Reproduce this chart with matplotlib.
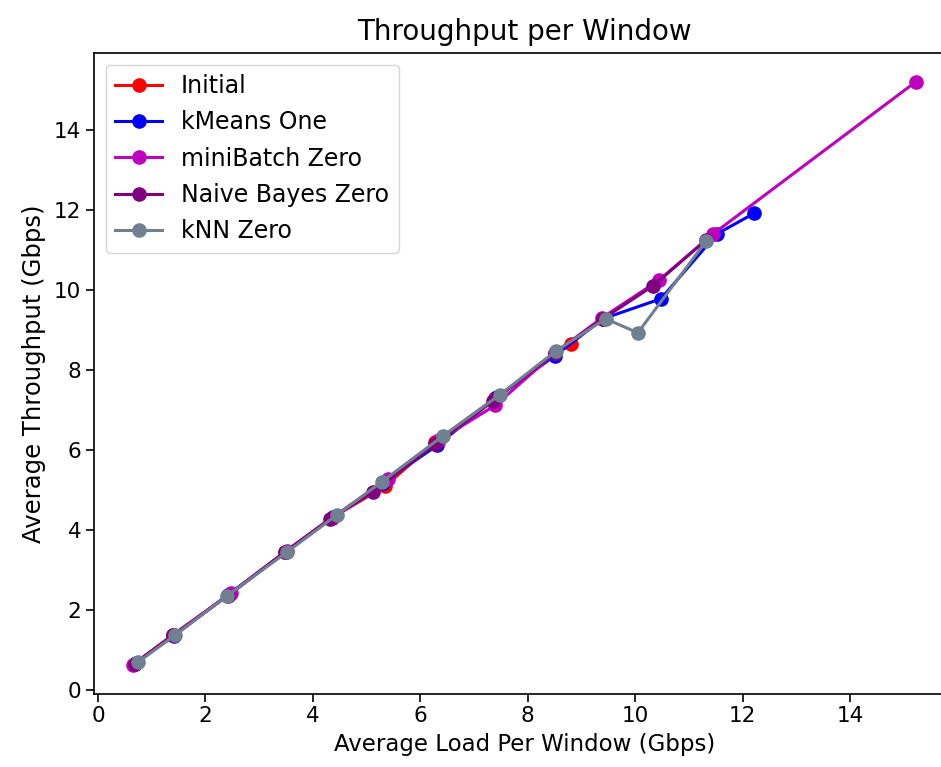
import matplotlib
matplotlib.use('Agg')
import matplotlib.pyplot as plt

# Veriler
initial_x = [0.68, 1.40, 2.45, 3.48, 4.35, 5.35, 6.28, 7.40, 8.80]
initial_y = [0.66, 1.38, 2.40, 3.45, 4.30, 5.10, 6.20, 7.30, 8.65]

kmeans_x = [0.70, 1.42, 2.42, 3.50, 4.38, 5.30, 6.32, 7.42, 8.50, 9.40, 10.48, 11.52, 12.22]
kmeans_y = [0.68, 1.36, 2.38, 3.46, 4.32, 5.18, 6.12, 7.32, 8.35, 9.28, 9.78, 11.40, 11.92]

minibatch_x = [0.65, 1.40, 2.48, 3.52, 4.35, 5.40, 6.35, 7.40, 8.50, 9.38, 10.45, 11.45, 15.22]
minibatch_y = [0.63, 1.38, 2.42, 3.48, 4.30, 5.28, 6.25, 7.12, 8.42, 9.30, 10.25, 11.40, 15.20]

bayes_x = [0.68, 1.40, 2.42, 3.48, 4.32, 5.12, 6.28, 7.35, 8.50, 9.40, 10.33, 11.32]
bayes_y = [0.66, 1.37, 2.36, 3.45, 4.28, 4.95, 6.15, 7.22, 8.42, 9.28, 10.10, 11.25]

knn_x = [0.75, 1.43, 2.40, 3.52, 4.45, 5.28, 6.42, 7.48, 8.52, 9.45, 10.05, 11.32]
knn_y = [0.70, 1.37, 2.35, 3.45, 4.38, 5.20, 6.35, 7.38, 8.47, 9.28, 8.93, 11.22]

x_ticks = [0, 2, 4, 6, 8, 10, 12, 14]
y_ticks = [0, 2, 4, 6, 8, 10, 12, 14]

fig = plt.figure(figsize=(9.41, 7.67), dpi=100)
ax = fig.add_axes([0.0996, 0.0952, 0.915, 0.836])

lw, ms = 2.2, 9.5
ax.plot(initial_x, initial_y, '-o', color='red', lw=lw, ms=ms, label='Initial')
ax.plot(kmeans_x, kmeans_y, '-o', color='blue', lw=lw, ms=ms, label='kMeans One')
ax.plot(minibatch_x, minibatch_y, '-o', color='m', lw=lw, ms=ms, label='miniBatch Zero')
ax.plot(bayes_x, bayes_y, '-o', color='purple', lw=lw, ms=ms, label='Naive Bayes Zero')
ax.plot(knn_x, knn_y, '-o', color='slategray', lw=lw, ms=ms, label='kNN Zero')

ax.set_xlim(-0.08, 15.95)
ax.set_ylim(-0.10, 15.93)
ax.set_xticks(x_ticks)
ax.set_yticks(y_ticks)
ax.tick_params(labelsize=15.5, length=5.5, width=1.2)
for s in ax.spines.values():
    s.set_linewidth(1.2)

ax.set_title('Throughput per Window', fontsize=20, pad=9)
ax.set_xlabel('Average Load Per Window (Gbps)', fontsize=16.5, labelpad=5)
ax.set_ylabel('Average Throughput (Gbps)', fontsize=17.5, labelpad=6)
ax.legend(loc='upper left', fontsize=17, borderaxespad=0.5, handlelength=2.0,
          labelspacing=0.52)

fig.savefig('out.png', dpi=100)
